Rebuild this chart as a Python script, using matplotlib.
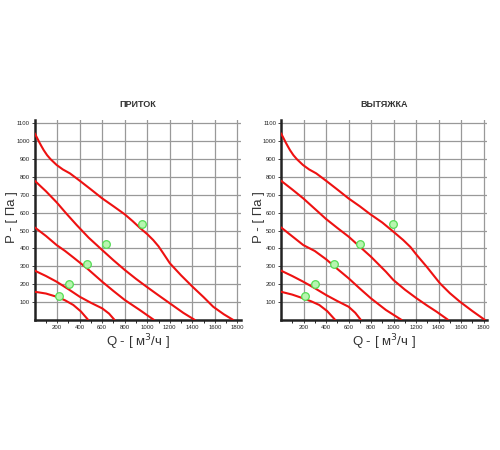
#!/usr/bin/env python3
# Fan curves: supply (ПРИТОК) and exhaust (ВЫТЯЖКА), P vs Q
import matplotlib
matplotlib.use("Agg")
import matplotlib.pyplot as plt

plt.rcParams["font.family"] = ["Liberation Sans", "DejaVu Sans"]

titles = ["ПРИТОК", "ВЫТЯЖКА"]

# supply curves (Q in m3/h, P in Pa)
sup_q = [
    [0, 20, 40, 60, 80, 110, 140, 170, 195, 250, 313, 400, 500, 600, 700, 800, 870, 935,
     1000, 1053, 1100, 1142, 1201, 1300, 1402, 1500, 1586, 1680, 1764],
    [0, 100, 195, 280, 373, 480, 600, 700, 800, 900, 994, 1100, 1201, 1320, 1423],
    [0, 100, 195, 270, 343, 470, 600, 700, 800, 933, 1060],
    [0, 100, 195, 300, 400, 500, 600, 660, 710],
    [0, 100, 195, 270, 343, 410, 476],
]
sup_p = [
    [1044, 1020, 995, 972, 950, 922, 900, 882, 867, 842, 820, 779, 730, 680, 636, 591, 553, 515,
     480, 447, 412, 373, 317, 250, 186, 128, 74, 32, 0],
    [779, 720, 658, 596, 531, 460, 391, 334, 280, 230, 186, 138, 93, 40, 0],
    [518, 470, 419, 386, 350, 286, 214, 162, 112, 56, 0],
    [276, 246, 214, 172, 130, 96, 65, 36, 0],
    [158, 148, 130, 110, 84, 48, 0],
]
sup_pts_q = [216, 304, 468, 637, 956]
sup_pts_p = [134, 201, 315, 425, 537]

# exhaust curves
exh_q = [
    [0, 20, 40, 60, 80, 110, 140, 170, 195, 250, 313, 400, 500, 600, 700, 790, 900, 998,
     1086, 1150, 1205, 1294, 1412, 1500, 1590, 1700, 1812],
    [0, 100, 198, 300, 400, 500, 601, 700, 799, 932, 998, 1100, 1205, 1300, 1383, 1486],
    [0, 100, 198, 300, 400, 500, 601, 700, 799, 932, 1072],
    [0, 100, 198, 300, 400, 500, 601, 660, 710],
    [0, 100, 198, 270, 340, 410, 482],
]
exh_p = [
    [1044, 1020, 995, 972, 950, 922, 900, 882, 867, 842, 820, 779, 730, 680, 636, 593, 545, 494,
     447, 408, 364, 298, 205, 150, 102, 50, 0],
    [779, 730, 680, 622, 565, 515, 466, 410, 354, 270, 224, 170, 121, 80, 46, 0],
    [518, 468, 419, 386, 340, 286, 233, 176, 121, 56, 0],
    [276, 246, 214, 178, 140, 106, 74, 40, 0],
    [158, 142, 121, 104, 84, 50, 0],
]
exh_pts_q = [216, 305, 468, 704, 992]
exh_pts_p = [134, 201, 315, 425, 537]

xticks = [200, 400, 600, 800, 1000, 1200, 1400, 1600, 1800]
yticks = [100, 200, 300, 400, 500, 600, 700, 800, 900, 1000, 1100]

fig = plt.figure(figsize=(5, 4.5), dpi=100)
lefts = [0.0694, 0.562]
ylab_x = [-0.081, -0.078]
data = [(sup_q, sup_p, sup_pts_q, sup_pts_p), (exh_q, exh_p, exh_pts_q, exh_pts_p)]

for i in range(2):
    ax = fig.add_axes([lefts[i], 0.2889, 0.412, 0.445])
    qs, ps, mq, mp = data[i]
    for q, p in zip(qs, ps):
        ax.plot(q, p, color="#ee1111", lw=1.5, solid_joinstyle="round",
                solid_capstyle="round", zorder=3)
    ax.plot(mq, mp, "o", ms=5.5, mfc="#b8f5b0", mec="#55dd55", mew=0.9, zorder=4)
    ax.set_xlim(0, 1830)
    ax.set_ylim(0, 1120)
    ax.set_xticks(xticks)
    ax.set_xticks(range(100, 1900, 100), minor=True)
    ax.set_yticks(yticks)
    ax.tick_params(labelsize=4.3, length=2, width=0.6, pad=1.5, colors="#222222")
    ax.tick_params(which="minor", length=2, width=0.6)
    ax.grid(True, color="#999999", lw=0.9)
    for s in ["top", "right"]:
        ax.spines[s].set_visible(False)
    for s in ["left", "bottom"]:
        ax.spines[s].set_linewidth(1.8)
        ax.spines[s].set_color("#222222")
    ax.set_title(titles[i], fontsize=6.5, fontweight="bold", color="#333333", pad=9)
    ax.set_xlabel("Q - [ м$^3$/ч ]", fontsize=9.5, color="#333333", labelpad=2)
    ax.set_ylabel("P - [ Па ]", fontsize=9.5, color="#333333")
    ax.yaxis.set_label_coords(ylab_x[i], 0.516)

plt.savefig("out.png", dpi=100)
